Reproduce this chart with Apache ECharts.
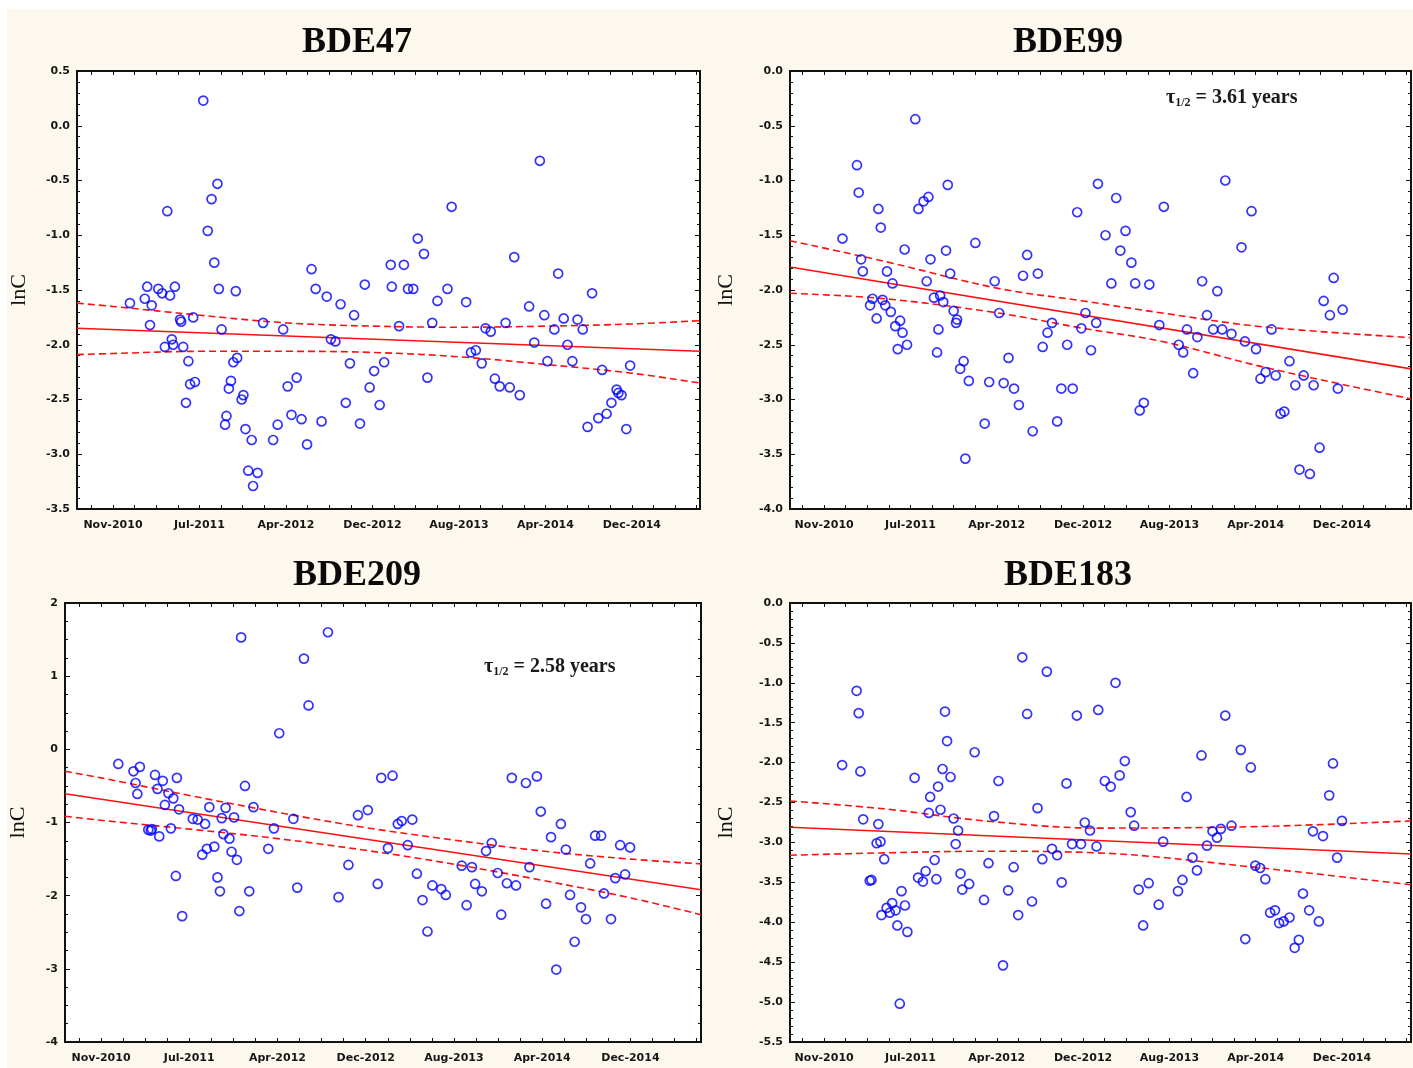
<!DOCTYPE html>
<html>
<head>
<meta charset="utf-8">
<script src="https://cdn.jsdelivr.net/npm/echarts@6/dist/echarts.min.js"></script>
<style>html,body{margin:0;padding:0;background:#fff}#c{width:1413px;height:1068px}</style>
</head>
<body>
<div id="c"></div>
<script>
// ---- tick labels (x = days after the Nov-2010 tick) ----
const xTickDays = [0, 250, 500, 750, 1000, 1250, 1500];
const xTickLabels = ['Nov-2010', 'Jul-2011', 'Apr-2012', 'Dec-2012', 'Aug-2013', 'Apr-2014', 'Dec-2014'];
const panelTitles = ['BDE47', 'BDE99', 'BDE209', 'BDE183'];

// ---- BDE47 ----
const bde47Points = [
[261,0.23],[302,-0.53],[285,-0.67],[157,-0.78],[274,-0.96],[293,-1.25],[574,-1.31],[99,-1.47],[131,-1.49],[142,-1.53],[165,-1.55],[179,-1.47],[306,-1.49],[355,-1.51],[586,-1.49],[618,-1.56],[658,-1.63],[697,-1.73],[728,-1.45],
[49,-1.62],[92,-1.58],[112,-1.64],[107,-1.82],[194,-1.77],[197,-1.79],[232,-1.75],[314,-1.86],[434,-1.80],[492,-1.86],[170,-1.95],[150,-2.02],[174,-2.00],[203,-2.02],[218,-2.15],[223,-2.36],[237,-2.34],[211,-2.53],[348,-2.16],[359,-2.12],[341,-2.33],[335,-2.40],[377,-2.46],[372,-2.50],[328,-2.65],[324,-2.73],[383,-2.77],[401,-2.87],[391,-3.15],[418,-3.17],[405,-3.29],[463,-2.87],[476,-2.73],[516,-2.64],[545,-2.68],[561,-2.91],[603,-2.70],[505,-2.38],[531,-2.30],[630,-1.95],[643,-1.97],[685,-2.17],[673,-2.53],[714,-2.72],[742,-2.39],[755,-2.24],[784,-2.16],[771,-2.55],
[1234,-0.32],[979,-0.74],[881,-1.03],[899,-1.17],[803,-1.27],[841,-1.27],[806,-1.47],[853,-1.49],[868,-1.49],[967,-1.49],[938,-1.60],[1021,-1.61],[1160,-1.20],[1287,-1.35],[1385,-1.53],[1203,-1.65],[1247,-1.73],[1303,-1.76],[1343,-1.77],[1358,-1.86],[1276,-1.86],[827,-1.83],[923,-1.80],[1077,-1.85],[1092,-1.88],[1135,-1.80],[1218,-1.98],[1314,-2.00],[1035,-2.07],[1049,-2.05],[1066,-2.17],[1256,-2.15],[1328,-2.15],[1414,-2.23],[1495,-2.19],[909,-2.30],[1104,-2.31],[1118,-2.38],[1147,-2.39],[1176,-2.46],[1456,-2.41],[1461,-2.44],[1470,-2.46],[1441,-2.53],[1427,-2.63],[1403,-2.67],[1372,-2.75],[1484,-2.77]
];
const bde47Fit = [[-104,-1.85],[1697,-2.06]];
const bde47Upper = [[-104,-1.62],[0,-1.65],[250,-1.73],[500,-1.80],[750,-1.83],[1000,-1.84],[1250,-1.83],[1500,-1.81],[1697,-1.78]];
const bde47Lower = [[-104,-2.09],[0,-2.08],[250,-2.06],[500,-2.06],[750,-2.07],[1000,-2.11],[1250,-2.18],[1500,-2.26],[1697,-2.35]];

// ---- BDE99 ----
const bde99Points = [
[264,-0.44],[95,-0.86],[100,-1.11],[157,-1.26],[164,-1.43],[273,-1.26],[288,-1.19],[302,-1.15],[358,-1.04],[53,-1.53],[233,-1.63],[308,-1.72],[353,-1.64],[438,-1.57],[107,-1.72],[112,-1.83],[182,-1.83],[198,-1.94],[297,-1.92],[365,-1.85],[494,-1.92],[588,-1.68],[576,-1.87],[619,-1.85],[733,-1.29],[793,-1.03],[140,-2.08],[169,-2.09],[133,-2.14],[177,-2.14],[193,-2.20],[152,-2.26],[220,-2.28],[206,-2.33],[227,-2.39],[240,-2.50],[213,-2.54],[318,-2.07],[336,-2.05],[345,-2.11],[375,-2.19],[385,-2.27],[382,-2.30],[331,-2.36],[327,-2.57],[404,-2.65],[394,-2.72],[419,-2.83],[478,-2.84],[520,-2.85],[550,-2.90],[534,-2.62],[507,-2.21],[564,-3.05],[465,-3.22],[604,-3.29],[675,-3.20],[409,-3.54],[633,-2.52],[704,-2.50],[647,-2.39],[660,-2.30],[745,-2.35],[757,-2.21],[773,-2.55],[788,-2.30],[687,-2.90],[720,-2.90],
[1162,-1.00],[846,-1.16],[984,-1.24],[1238,-1.28],[815,-1.50],[873,-1.46],[858,-1.64],[890,-1.75],[1209,-1.61],[832,-1.94],[901,-1.94],[942,-1.95],[1095,-1.92],[1139,-2.01],[1476,-1.89],[1447,-2.10],[1502,-2.18],[1465,-2.23],[971,-2.32],[1051,-2.36],[1081,-2.43],[1109,-2.23],[1127,-2.36],[1153,-2.36],[1180,-2.40],[1027,-2.50],[1040,-2.57],[1219,-2.47],[1251,-2.54],[1296,-2.36],[1069,-2.76],[1348,-2.65],[1264,-2.81],[1279,-2.75],[1308,-2.78],[1365,-2.87],[1389,-2.78],[1418,-2.87],[1488,-2.90],[926,-3.03],[914,-3.10],[1322,-3.13],[1333,-3.11],[1435,-3.44],[1377,-3.64],[1407,-3.68]
];
const bde99Fit = [[-99,-1.79],[1700,-2.72]];
const bde99Upper = [[-99,-1.55],[177,-1.74],[504,-1.985],[750,-2.10],[979,-2.21],[1268,-2.335],[1700,-2.435]];
const bde99Lower = [[-99,-2.03],[177,-2.08],[504,-2.21],[750,-2.35],[979,-2.47],[1268,-2.70],[1700,-2.995]];

// ---- BDE209 ----
const bde209Points = [
[397,1.53],[643,1.60],[575,1.24],[588,0.60],[505,0.22],[49,-0.20],[92,-0.30],[110,-0.24],[98,-0.46],[103,-0.61],[153,-0.35],[175,-0.43],[215,-0.39],[160,-0.54],[191,-0.60],[205,-0.67],[181,-0.76],[221,-0.82],[408,-0.50],[260,-0.95],[274,-0.96],[295,-1.02],[307,-0.79],[353,-0.80],[342,-0.94],[377,-0.93],[432,-0.79],[134,-1.10],[141,-1.11],[144,-1.09],[165,-1.19],[198,-1.08],[347,-1.16],[364,-1.22],[490,-1.08],[545,-0.95],[474,-1.36],[370,-1.40],[385,-1.51],[321,-1.33],[300,-1.36],[287,-1.44],[212,-1.73],[330,-1.75],[337,-1.94],[420,-1.94],[556,-1.89],[230,-2.28],[392,-2.21],[701,-1.58],[673,-2.02],[728,-0.90],[756,-0.83],
[794,-0.39],[826,-0.36],[841,-1.02],[852,-0.98],[882,-0.96],[813,-1.35],[869,-1.31],[784,-1.84],[895,-1.70],[939,-1.86],[964,-1.91],[977,-1.99],[911,-2.06],[925,-2.49],[1022,-1.59],[1051,-1.61],[1036,-2.13],[1060,-1.84],[1079,-1.94],[1091,-1.39],[1107,-1.28],[1124,-1.69],[1134,-2.26],[1150,-1.83],[1176,-1.86],[1164,-0.39],[1204,-0.46],[1235,-0.37],[1246,-0.85],[1303,-1.02],[1275,-1.20],[1317,-1.37],[1214,-1.61],[1261,-2.11],[1290,-3.01],[1342,-2.63],[1329,-1.99],[1360,-2.16],[1374,-2.32],[1386,-1.56],[1400,-1.18],[1417,-1.18],[1425,-1.97],[1445,-2.32],[1457,-1.76],[1485,-1.71],[1471,-1.31],[1499,-1.34]
];
const bde209Fit = [[-102,-0.606],[1700,-1.918]];
const bde209Upper = [[-102,-0.30],[0,-0.39],[250,-0.63],[500,-0.86],[750,-1.07],[1000,-1.24],[1250,-1.39],[1500,-1.50],[1700,-1.565]];
const bde209Lower = [[-102,-0.915],[0,-0.97],[250,-1.09],[500,-1.22],[750,-1.38],[1000,-1.57],[1250,-1.79],[1500,-2.03],[1700,-2.26]];

// ---- BDE183 ----
const bde183Points = [
[574,-0.68],[645,-0.86],[94,-1.10],[100,-1.38],[350,-1.36],[588,-1.39],[732,-1.41],[794,-1.34],[356,-1.73],[436,-1.87],[52,-2.03],[105,-2.11],[262,-2.19],[343,-2.08],[366,-2.18],[330,-2.30],[307,-2.43],[505,-2.23],[702,-2.26],[303,-2.63],[337,-2.59],[375,-2.70],[388,-2.85],[381,-3.02],[492,-2.67],[618,-2.57],[113,-2.71],[157,-2.77],[152,-3.01],[163,-2.99],[174,-3.21],[320,-3.22],[137,-3.47],[132,-3.48],[272,-3.44],[294,-3.36],[286,-3.49],[325,-3.46],[395,-3.39],[400,-3.59],[420,-3.52],[463,-3.72],[476,-3.26],[533,-3.60],[549,-3.31],[602,-3.74],[562,-3.91],[632,-3.21],[660,-3.08],[675,-3.16],[688,-3.50],[224,-3.61],[197,-3.76],[181,-3.82],[166,-3.91],[190,-3.88],[207,-3.85],[234,-3.79],[212,-4.04],[241,-4.12],[518,-4.54],[219,-5.02],[718,-3.02],[744,-3.02],[755,-2.75],[770,-2.85],[789,-3.05],
[844,-1.00],[1162,-1.41],[1207,-1.84],[1236,-2.06],[1093,-1.91],[871,-1.98],[813,-2.23],[830,-2.30],[856,-2.16],[1050,-2.43],[888,-2.62],[898,-2.79],[982,-2.99],[1125,-2.86],[1149,-2.83],[1138,-2.94],[1180,-2.79],[1109,-3.04],[1067,-3.19],[1080,-3.35],[1038,-3.47],[1025,-3.61],[940,-3.51],[911,-3.59],[969,-3.78],[924,-4.04],[1249,-3.29],[1263,-3.32],[1278,-3.46],[1220,-4.21],[1292,-3.88],[1306,-3.85],[1318,-4.01],[1331,-3.99],[1348,-3.94],[1387,-3.64],[1405,-3.85],[1433,-3.99],[1375,-4.22],[1363,-4.32],[1416,-2.86],[1445,-2.92],[1463,-2.41],[1474,-2.01],[1500,-2.73],[1486,-3.19]
];
const bde183Fit = [[-99,-2.81],[1700,-3.145]];
const bde183Upper = [[-99,-2.48],[176,-2.58],[465,-2.73],[790,-2.82],[1267,-2.80],[1700,-2.73]];
const bde183Lower = [[-99,-3.16],[176,-3.13],[465,-3.11],[790,-3.13],[1267,-3.32],[1700,-3.53]];

// ---- half-life annotations ----
const halfLifeBDE99 = '3.61';
const halfLifeBDE209 = '2.58';

// ---------------- layout ----------------
const panels = [
  {title: panelTitles[0], pts: bde47Points, fit: bde47Fit, up: bde47Upper, lo: bde47Lower,
   grid: {left: 77, top: 71, width: 623, height: 438}, xmin: -104, xmax: 1697,
   ymin: -3.5, ymax: 0.5, yint: 0.5, ysplit: 5, dec: 1, nameGap: 47, tx: 357, ty: 25},
  {title: panelTitles[1], pts: bde99Points, fit: bde99Fit, up: bde99Upper, lo: bde99Lower,
   grid: {left: 790, top: 71, width: 621, height: 438}, xmin: -99, xmax: 1700,
   ymin: -4, ymax: 0, yint: 0.5, ysplit: 5, dec: 1, nameGap: 53, tx: 1068, ty: 25},
  {title: panelTitles[2], pts: bde209Points, fit: bde209Fit, up: bde209Upper, lo: bde209Lower,
   grid: {left: 65, top: 603, width: 636, height: 439}, xmin: -102, xmax: 1700,
   ymin: -4, ymax: 2, yint: 1, ysplit: 4, dec: 0, nameGap: 36, tx: 357, ty: 558},
  {title: panelTitles[3], pts: bde183Points, fit: bde183Fit, up: bde183Upper, lo: bde183Lower,
   grid: {left: 790, top: 603, width: 621, height: 439}, xmin: -99, xmax: 1700,
   ymin: -5.5, ymax: 0, yint: 0.5, ysplit: 5, dec: 1, nameGap: 53, tx: 1068, ty: 558}
];

const labelFont = {fontFamily: 'DejaVu Sans', fontWeight: 'bold', fontSize: 11, color: '#161616'};
const grids = [], xAxes = [], yAxes = [], series = [], titles = [];

panels.forEach((p, i) => {
  grids.push(Object.assign({show: true, backgroundColor: '#ffffff', borderColor: '#111', borderWidth: 2,
    outerBoundsMode: 'none', containLabel: false}, p.grid));
  const allTicks = [];
  for (let d = -250; d <= 1750; d += 62.5) if (d >= p.xmin && d <= p.xmax) allTicks.push(d);
  ['bottom', 'top'].forEach((pos, k) => {
    xAxes.push({
      gridIndex: i, type: 'value', position: pos, min: p.xmin, max: p.xmax,
      axisLine: {show: false, onZero: false}, splitLine: {show: false},
      axisTick: {show: true, inside: true, length: 4, customValues: allTicks, lineStyle: {color: '#111', width: 1}},
      axisLabel: k === 0 ? Object.assign({show: true, margin: 11, customValues: xTickDays,
        formatter: v => xTickLabels[xTickDays.indexOf(Math.round(v))] || ''}, labelFont) : {show: false}
    });
  });
  ['left', 'right'].forEach((pos, k) => {
    const ax = {
      gridIndex: i, type: 'value', position: pos, min: p.ymin, max: p.ymax, interval: p.yint,
      axisLine: {show: false, onZero: false}, splitLine: {show: false},
      axisTick: {show: true, inside: true, length: 5, lineStyle: {color: '#111', width: 1}},
      minorTick: {show: true, splitNumber: p.ysplit, length: 3, lineStyle: {color: '#111', width: 1}},
      axisLabel: k === 0 ? Object.assign({show: true, margin: 7, formatter: v => v.toFixed(p.dec)}, labelFont) : {show: false}
    };
    if (k === 0) {
      ax.name = 'lnC'; ax.nameLocation = 'middle'; ax.nameGap = p.nameGap;
      ax.nameTextStyle = {fontFamily: 'Liberation Serif', fontSize: 22, color: '#111'};
    }
    yAxes.push(ax);
  });
  const xi = 2 * i, yi = 2 * i;
  series.push({type: 'scatter', xAxisIndex: xi, yAxisIndex: yi, data: p.pts, symbol: 'circle', symbolSize: 9,
    itemStyle: {color: 'rgba(0,0,0,0)', borderColor: '#0000ff', borderWidth: 1.7}, silent: true, z: 3});
  series.push({type: 'line', xAxisIndex: xi, yAxisIndex: yi, data: p.fit, showSymbol: false, silent: true,
    lineStyle: {color: '#ff1010', width: 1.6, type: 'solid'}, z: 2});
  [p.up, p.lo].forEach(band => series.push({type: 'line', xAxisIndex: xi, yAxisIndex: yi, data: band, showSymbol: false,
    smooth: 0.35, silent: true, lineStyle: {color: '#ff1010', width: 1.6, type: [7, 4]}, z: 2}));
  titles.push({text: p.title, left: p.tx, top: p.ty, textAlign: 'center', padding: 0,
    textStyle: {fontFamily: 'Liberation Serif', fontWeight: 'bold', fontSize: 36, color: '#0a0a0a'}});
});

const richHL = {
  t: {fontFamily: 'Liberation Serif', fontSize: 20, color: '#1a1a1a'},
  s: {fontFamily: 'Liberation Serif', fontSize: 12, color: '#1a1a1a', padding: [10, 0, 0, 0]}
};
titles.push({text: '{t|τ}{s|1/2}{t| = ' + halfLifeBDE99 + ' years}', left: 1166, top: 87, padding: 0,
  textStyle: {rich: richHL}});
titles.push({text: '{t|τ}{s|1/2}{t| = ' + halfLifeBDE209 + ' years}', left: 484, top: 656, padding: 0,
  textStyle: {rich: richHL}});

const chart = echarts.init(document.getElementById('c'), null, {renderer: 'canvas'});
chart.setOption({
  animation: false,
  backgroundColor: '#ffffff',
  graphic: [{type: 'rect', silent: true, z: -100, shape: {x: 7, y: 9, width: 1406, height: 1059}, style: {fill: '#fdf8ee'}}],
  title: titles,
  grid: grids,
  xAxis: xAxes,
  yAxis: yAxes,
  series: series
});
</script>
</body>
</html>
